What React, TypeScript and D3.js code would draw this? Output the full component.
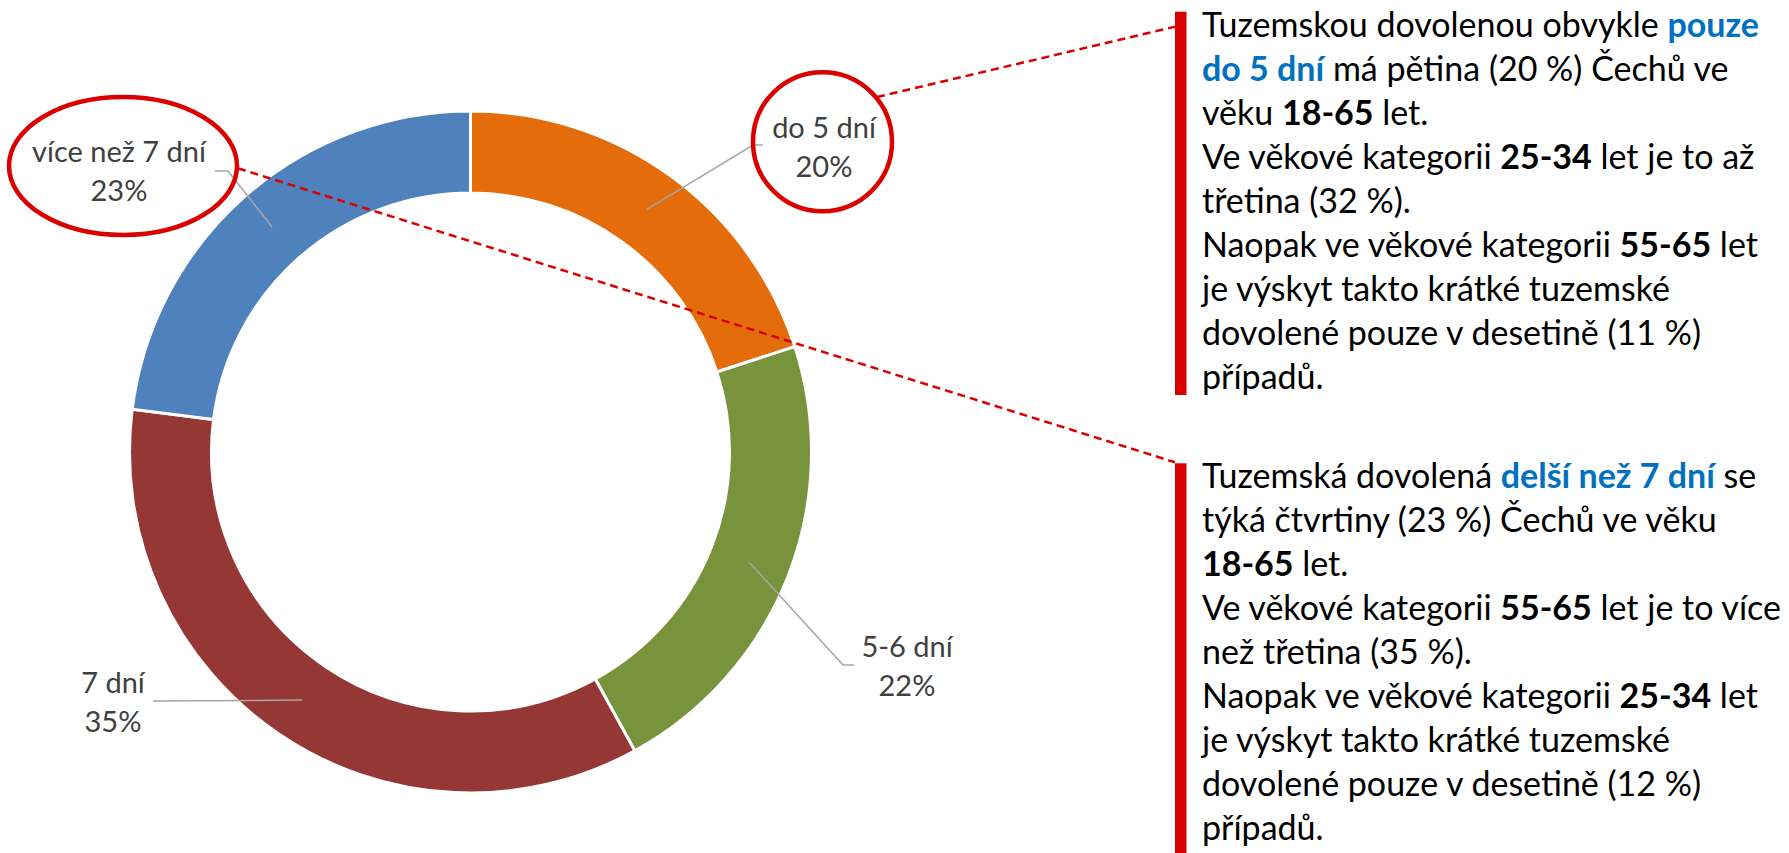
import { useEffect } from 'react'
import * as d3 from 'd3'

// délka tuzemské dovolené
const categories = ['do 5 dní', '5-6 dní', '7 dní', 'více než 7 dní']
const shares = [20, 22, 35, 23]
const sliceColors = ['#E46C0A', '#77933C', '#953735', '#4F81BD']

// komentáře vpravo: [text, styl] — '' normální, 'b' tučně, 'h' tučně modře
type Run = [string, string]
const note1: Run[][] = [
  [['Tuzemskou dovolenou obvykle ', ''], ['pouze', 'h']],
  [['do 5 dní', 'h'], [' má pětina (20 %) Čechů ve', '']],
  [['věku ', ''], ['18-65', 'b'], [' let.', '']],
  [['Ve věkové kategorii ', ''], ['25-34', 'b'], [' let je to až', '']],
  [['třetina (32 %).', '']],
  [['Naopak ve věkové kategorii ', ''], ['55-65', 'b'], [' let', '']],
  [['je výskyt takto krátké tuzemské', '']],
  [['dovolené pouze v desetině (11 %)', '']],
  [['případů.', '']],
]
const note2: Run[][] = [
  [['Tuzemská dovolená ', ''], ['delší než 7 dní', 'h'], [' se', '']],
  [['týká čtvrtiny (23 %) Čechů ve věku', '']],
  [['18-65', 'b'], [' let.', '']],
  [['Ve věkové kategorii ', ''], ['55-65', 'b'], [' let je to více', '']],
  [['než třetina (35 %).', '']],
  [['Naopak ve věkové kategorii ', ''], ['25-34', 'b'], [' let', '']],
  [['je výskyt takto krátké tuzemské', '']],
  [['dovolené pouze v desetině (12 %)', '']],
  [['případů.', '']],
]

// rozložení (ručně umístěné popisky jako v Excelu)
const W = 1789
const H = 853
const cx = 470.5
const cy = 452
const outerR = 341
const innerR = 259
const labelAt = [
  { x: 824, y: 138, lx: 763, ly: 145, elbow: -10 },
  { x: 907, y: 657, lx: 854, ly: 665, elbow: -11 },
  { x: 113, y: 693, lx: 153, ly: 701, elbow: 0 },
  { x: 119, y: 162, lx: 215, ly: 171, elbow: 13 },
]
const FONT = 'Lato, "Open Sans", sans-serif'
const RED = '#D90000'

function Note({ lines, x, y0, step }: { lines: Run[][]; x: number; y0: number; step: number }) {
  return (
    <g fontFamily={FONT} fontSize={34} fill="#000">
      {lines.map((runs, i) => (
        <text key={i} x={x} y={y0 + i * step}>
          {runs.map(([t, s], j) => (
            <tspan
              key={j}
              fontWeight={s ? 700 : 400}
              fill={s === 'h' ? '#0070C0' : '#000'}
              style={{ whiteSpace: 'pre' }}
            >
              {t}
            </tspan>
          ))}
        </text>
      ))}
    </g>
  )
}

export default function App() {
  useEffect(() => {
    document.body.style.margin = '0'
  }, [])

  const pie = d3.pie<number>().sort(null).value((d) => d)
  const arcs = pie(shares)
  const arc = d3.arc<d3.PieArcDatum<number>>().innerRadius(innerR).outerRadius(outerR)

  return (
    <svg width={W} height={H} style={{ display: 'block', background: '#fff' }}>
      <g transform={`translate(${cx},${cy})`}>
        {arcs.map((a, i) => (
          <path key={i} d={arc(a) || ''} fill={sliceColors[i]} stroke="#fff" strokeWidth={3} />
        ))}
      </g>

      {/* vodicí čáry k popiskům */}
      {arcs.map((a, i) => {
        const [px, py] = arc.centroid(a)
        const L = labelAt[i]
        const pts = [
          [L.lx, L.ly],
          [L.lx + L.elbow, L.ly],
          [cx + px, cy + py],
        ]
        return (
          <path
            key={i}
            d={d3.line()(pts as [number, number][]) || ''}
            fill="none"
            stroke="#A6A6A6"
            strokeWidth={1.5}
          />
        )
      })}

      {/* popisky dat */}
      <g fontFamily={FONT} fontSize={29} fill="#404040" textAnchor="middle">
        {categories.map((c, i) => (
          <text key={i} x={labelAt[i].x} y={labelAt[i].y}>
            <tspan x={labelAt[i].x}>{c}</tspan>
            <tspan x={labelAt[i].x} dy={39}>{`${shares[i]}%`}</tspan>
          </text>
        ))}
      </g>

      {/* zvýraznění */}
      <circle cx={822.5} cy={141.7} r={69.5} fill="none" stroke={RED} strokeWidth={4.5} />
      <ellipse cx={123} cy={166} rx={114} ry={69} fill="none" stroke={RED} strokeWidth={4.5} />
      <line x1={877} y1={97} x2={1175} y2={26.7} stroke={RED} strokeWidth={2.5} strokeDasharray="8,5" />
      <line x1={238} y1={168.3} x2={1175} y2={462.3} stroke={RED} strokeWidth={2.5} strokeDasharray="8,5" />

      <rect x={1175} y={11.7} width={11.5} height={383.3} fill={RED} />
      <rect x={1175} y={463.3} width={11.5} height={H - 463.3} fill={RED} />

      <Note lines={note1} x={1202} y0={36.7} step={44} />
      <Note lines={note2} x={1202} y0={488.3} step={44} />
    </svg>
  )
}
